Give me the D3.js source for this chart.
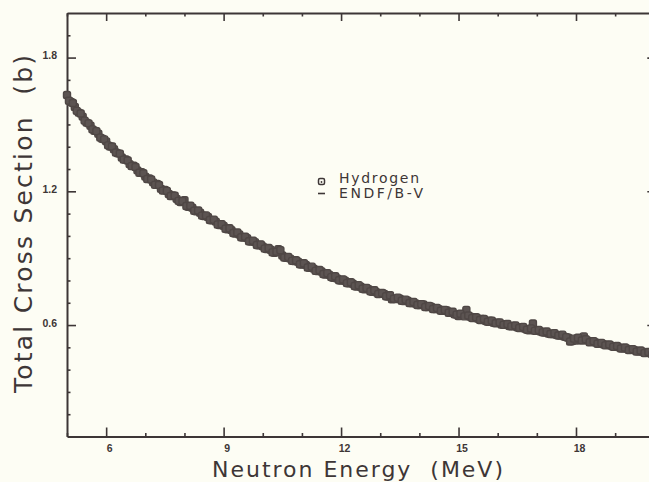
<!DOCTYPE html>
<html>
<head>
<meta charset="utf-8">
<script src="https://cdn.jsdelivr.net/npm/d3@7"></script>
<style>
  html, body { margin: 0; padding: 0; background: #fdfdf4; }
  svg { display: block; }
</style>
</head>
<body>
<svg id="chart" width="649" height="482"></svg>
<script>
// Measured n-p total cross section (b) vs neutron energy (MeV), two interleaved energy grids
const energiesA = [
  5.0, 5.1, 5.2, 5.3, 5.4, 5.5, 5.6, 5.7, 5.8, 5.9,
  6.0, 6.1, 6.2, 6.3, 6.4, 6.5, 6.6, 6.7, 6.8, 6.9,
  7.0, 7.1, 7.2, 7.3, 7.4, 7.5, 7.6, 7.7, 7.8, 7.9,
  8.0, 8.1, 8.2, 8.3, 8.4, 8.5, 8.6, 8.7, 8.8, 8.9,
  9.0, 9.1, 9.2, 9.3, 9.4, 9.5, 9.6, 9.7, 9.8, 9.9,
  10.0, 10.1, 10.2, 10.3, 10.4, 10.5, 10.6, 10.7, 10.8, 10.9,
  11.0, 11.1, 11.2, 11.3, 11.4, 11.5, 11.6, 11.7, 11.8, 11.9,
  12.0, 12.1, 12.2, 12.3, 12.4, 12.5, 12.6, 12.7, 12.8, 12.9,
  13.0, 13.1, 13.2, 13.3, 13.4, 13.5, 13.6, 13.7, 13.8, 13.9,
  14.0, 14.1, 14.2, 14.3, 14.4, 14.5, 14.6, 14.7, 14.8, 14.9,
  15.0, 15.1, 15.2, 15.3, 15.4, 15.5, 15.6, 15.7, 15.8, 15.9,
  16.0, 16.1, 16.2, 16.3, 16.4, 16.5, 16.6, 16.7, 16.8, 16.9,
  17.0, 17.1, 17.2, 17.3, 17.4, 17.5, 17.6, 17.7, 17.8, 17.9,
  18.0, 18.1, 18.2, 18.3, 18.4, 18.5, 18.6, 18.7, 18.8, 18.9,
  19.0, 19.1, 19.2, 19.3, 19.4, 19.5, 19.6, 19.7, 19.8, 19.9
];
const hydrogenA = [
  1.632, 1.601, 1.578, 1.553, 1.535, 1.508, 1.494, 1.472, 1.458, 1.436,
  1.424, 1.401, 1.389, 1.370, 1.352, 1.343, 1.322, 1.315, 1.294, 1.286,
  1.266, 1.258, 1.240, 1.233, 1.211, 1.206, 1.188, 1.181, 1.166, 1.152,
  1.160, 1.131, 1.126, 1.110, 1.104, 1.089, 1.085, 1.070, 1.064, 1.049,
  1.045, 1.030, 1.026, 1.011, 1.006, 0.993, 0.990, 0.975, 0.972, 0.958,
  0.953, 0.941, 0.938, 0.924, 0.940, 0.912, 0.902, 0.898, 0.887, 0.884,
  0.872, 0.870, 0.857, 0.853, 0.842, 0.840, 0.827, 0.825, 0.812, 0.809,
  0.800, 0.799, 0.787, 0.785, 0.773, 0.772, 0.760, 0.761, 0.749, 0.747,
  0.740, 0.739, 0.728, 0.716, 0.717, 0.718, 0.708, 0.709, 0.699, 0.697,
  0.690, 0.692, 0.681, 0.682, 0.672, 0.671, 0.664, 0.666, 0.655, 0.648,
  0.640, 0.649, 0.668, 0.637, 0.633, 0.628, 0.627, 0.618, 0.619, 0.610,
  0.611, 0.602, 0.604, 0.595, 0.596, 0.590, 0.588, 0.583, 0.576, 0.607,
  0.574, 0.571, 0.566, 0.562, 0.560, 0.556, 0.553, 0.548, 0.543, 0.528,
  0.531, 0.538, 0.549, 0.530, 0.526, 0.522, 0.519, 0.514, 0.511, 0.507,
  0.503, 0.500, 0.496, 0.494, 0.489, 0.487, 0.482, 0.480, 0.475, 0.473
];
const energiesB = [
  5.05, 5.15, 5.25, 5.35, 5.45, 5.55, 5.65, 5.75, 5.85, 5.95,
  6.05, 6.15, 6.25, 6.35, 6.45, 6.55, 6.65, 6.75, 6.85, 6.95,
  7.05, 7.15, 7.25, 7.35, 7.45, 7.55, 7.65, 7.75, 7.85, 7.95,
  8.05, 8.15, 8.25, 8.35, 8.45, 8.55, 8.65, 8.75, 8.85, 8.95,
  9.05, 9.15, 9.25, 9.35, 9.45, 9.55, 9.65, 9.75, 9.85, 9.95,
  10.05, 10.15, 10.25, 10.35, 10.45, 10.55, 10.65, 10.75, 10.85, 10.95,
  11.05, 11.15, 11.25, 11.35, 11.45, 11.55, 11.65, 11.75, 11.85, 11.95,
  12.05, 12.15, 12.25, 12.35, 12.45, 12.55, 12.65, 12.75, 12.85, 12.95,
  13.05, 13.15, 13.25, 13.35, 13.45, 13.55, 13.65, 13.75, 13.85, 13.95,
  14.05, 14.15, 14.25, 14.35, 14.45, 14.55, 14.65, 14.75, 14.85, 14.95,
  15.05, 15.15, 15.25, 15.35, 15.45, 15.55, 15.65, 15.75, 15.85, 15.95,
  16.05, 16.15, 16.25, 16.35, 16.45, 16.55, 16.65, 16.75, 16.85, 16.95,
  17.05, 17.15, 17.25, 17.35, 17.45, 17.55, 17.65, 17.75, 17.85, 17.95,
  18.05, 18.15, 18.25, 18.35, 18.45, 18.55, 18.65, 18.75, 18.85, 18.95,
  19.05, 19.15, 19.25, 19.35, 19.45, 19.55, 19.65, 19.75, 19.85, 19.95
];
const hydrogenB = [
  1.606, 1.596, 1.561, 1.549, 1.517, 1.505, 1.478, 1.470, 1.441, 1.433,
  1.406, 1.401, 1.374, 1.369, 1.342, 1.338, 1.313, 1.309, 1.283, 1.281,
  1.255, 1.253, 1.229, 1.228, 1.203, 1.202, 1.179, 1.180, 1.157, 1.156,
  1.134, 1.135, 1.113, 1.114, 1.091, 1.092, 1.071, 1.073, 1.051, 1.053,
  1.032, 1.034, 1.013, 1.015, 0.994, 0.996, 0.976, 0.979, 0.959, 0.962,
  0.943, 0.946, 0.926, 0.929, 0.936, 0.903, 0.906, 0.888, 0.891, 0.873,
  0.877, 0.858, 0.862, 0.843, 0.847, 0.829, 0.833, 0.815, 0.819, 0.801,
  0.805, 0.788, 0.792, 0.775, 0.779, 0.763, 0.767, 0.751, 0.756, 0.739,
  0.744, 0.729, 0.734, 0.718, 0.723, 0.709, 0.714, 0.699, 0.704, 0.690,
  0.694, 0.681, 0.686, 0.672, 0.677, 0.664, 0.668, 0.655, 0.660, 0.647,
  0.651, 0.639, 0.643, 0.631, 0.635, 0.623, 0.627, 0.615, 0.620, 0.608,
  0.612, 0.601, 0.605, 0.594, 0.598, 0.587, 0.592, 0.579, 0.585, 0.574,
  0.578, 0.567, 0.571, 0.560, 0.564, 0.553, 0.557, 0.546, 0.526, 0.539,
  0.543, 0.531, 0.536, 0.523, 0.528, 0.516, 0.520, 0.509, 0.513, 0.502,
  0.506, 0.495, 0.499, 0.488, 0.492, 0.481, 0.486, 0.474, 0.479, 0.468
];

// ENDF/B-V evaluation
const endfEnergies = [5.0, 5.5, 6.0, 6.5, 7.0, 7.5, 8.0, 8.5, 9.0, 9.5, 10.0, 10.5, 11.0, 11.5, 12.0,
                      12.5, 13.0, 13.5, 14.0, 14.5, 15.0, 15.5, 16.0, 16.5, 17.0, 17.5, 18.0, 18.5, 19.0, 19.5, 20.0];
const endfValues = [1.625, 1.510, 1.420, 1.340, 1.268, 1.203, 1.145, 1.092, 1.042, 0.995, 0.952, 0.912, 0.875, 0.838, 0.803,
                    0.771, 0.742, 0.716, 0.692, 0.670, 0.649, 0.629, 0.610, 0.593, 0.576, 0.559, 0.541, 0.522, 0.504, 0.487, 0.470];

// Axis ticks
const xMajor = [6, 9, 12, 15, 18];
const xMinor = [5, 7, 8, 10, 11, 13, 14, 16, 17, 19, 20];
const yMajor = [0.6, 1.2, 1.8];
const yMinor = [0.2, 0.3, 0.4, 0.5, 0.7, 0.8, 0.9, 1.0, 1.1, 1.3, 1.4, 1.5, 1.6, 1.7, 1.9];

const legendLabels = ["Hydrogen", "ENDF/B-V"];

const ink = "#3d3636";
const markInk = "#4f4745";

const svg = d3.select("#chart");

const x = d3.scaleLinear().domain([5, 20]).range([67, 654.3]);
const y = d3.scaleLinear().domain([0.1, 2.0]).range([436.5, 13]);

const [x0, x1] = x.range();
const [yb, yt] = y.range();

function styleAxis(g, width) {
  g.select(".domain").attr("stroke", ink).attr("stroke-width", width);
  g.selectAll(".tick line").attr("stroke", ink).attr("stroke-width", 1.6);
}

// bottom axis
const gB = svg.append("g").attr("transform", `translate(0,${yb})`)
  .call(d3.axisBottom(x).tickValues(xMajor).tickSizeInner(-9).tickSizeOuter(0).tickPadding(8)
    .tickFormat(d3.format("d")));
styleAxis(gB, 2);
gB.selectAll(".tick text")
  .attr("fill", ink).attr("font-family", "Liberation Sans, Arial, sans-serif")
  .attr("font-weight", "bold").attr("font-size", 10.5).attr("dx", 3);
svg.append("g").attr("transform", `translate(0,${yb})`)
  .call(d3.axisBottom(x).tickValues(xMinor).tickSizeInner(-3.5).tickSizeOuter(0).tickFormat(""))
  .call(g => { g.select(".domain").remove(); styleAxis(g, 2); });

// top axis
const gT = svg.append("g").attr("transform", `translate(0,${yt})`)
  .call(d3.axisTop(x).tickValues(xMajor).tickSizeInner(-8).tickSizeOuter(0).tickFormat(""));
styleAxis(gT, 2);
svg.append("g").attr("transform", `translate(0,${yt})`)
  .call(d3.axisTop(x).tickValues(xMinor).tickSizeInner(-3.5).tickSizeOuter(0).tickFormat(""))
  .call(g => { g.select(".domain").remove(); styleAxis(g, 2); });

// left axis
const gL = svg.append("g").attr("transform", `translate(${x0},0)`)
  .call(d3.axisLeft(y).tickValues(yMajor).tickSizeInner(-9).tickSizeOuter(0).tickPadding(10)
    .tickFormat(d3.format(".1f")));
styleAxis(gL, 2);
gL.selectAll(".tick text")
  .attr("fill", ink).attr("font-family", "Liberation Sans, Arial, sans-serif")
  .attr("font-weight", "bold").attr("font-size", 10.5).attr("dy", "0.1em");
svg.append("g").attr("transform", `translate(${x0},0)`)
  .call(d3.axisLeft(y).tickValues(yMinor).tickSizeInner(-3.5).tickSizeOuter(0).tickFormat(""))
  .call(g => { g.select(".domain").remove(); styleAxis(g, 2); });

// right axis
const gR = svg.append("g").attr("transform", `translate(${x1},0)`)
  .call(d3.axisRight(y).tickValues(yMajor).tickSizeInner(-7).tickSizeOuter(0).tickFormat(""));
styleAxis(gR, 2);
svg.append("g").attr("transform", `translate(${x1},0)`)
  .call(d3.axisRight(y).tickValues(yMinor).tickSizeInner(-3.5).tickSizeOuter(0).tickFormat(""))
  .call(g => { g.select(".domain").remove(); styleAxis(g, 2); });

// ENDF/B-V curve
const endf = endfEnergies.map((e, i) => ({ e, v: endfValues[i] }));
svg.append("path")
  .datum(endf)
  .attr("fill", "none")
  .attr("stroke", markInk)
  .attr("stroke-width", 1.6)
  .attr("d", d3.line().x(d => x(d.e)).y(d => y(d.v)).curve(d3.curveMonotoneX));

// measured points
const pts = energiesA.map((e, i) => ({ e, v: hydrogenA[i] }))
  .concat(energiesB.map((e, i) => ({ e, v: hydrogenB[i] })));
const ms = 7;
svg.append("g").selectAll("rect")
  .data(pts)
  .join("rect")
  .attr("x", d => x(d.e) - ms / 2)
  .attr("y", d => y(d.v) - ms / 2)
  .attr("width", ms)
  .attr("height", ms)
  .attr("rx", 1.8)
  .attr("fill", "#5c5452")
  .attr("stroke", markInk)
  .attr("stroke-width", 1.4);

// legend
const lg = svg.append("g");
lg.append("rect")
  .attr("x", 318.5).attr("y", 178.5).attr("width", 6).attr("height", 6).attr("rx", 1.5)
  .attr("fill", "#fdfdf4").attr("stroke", ink).attr("stroke-width", 1.5);
lg.append("circle").attr("cx", 321.5).attr("cy", 182).attr("r", 0.9).attr("fill", ink);
lg.append("line")
  .attr("x1", 318).attr("x2", 325).attr("y1", 193.5).attr("y2", 193.5)
  .attr("stroke", ink).attr("stroke-width", 1.6);
lg.selectAll("text")
  .data(legendLabels)
  .join("text")
  .attr("x", 339)
  .attr("y", (d, i) => 183 + i * 14.5)
  .attr("textLength", (d, i) => i === 0 ? 80 : 84)
  .attr("lengthAdjust", "spacing")
  .attr("font-family", "DejaVu Sans, sans-serif")
  .attr("font-size", 14)
  .attr("fill", ink)
  .text(d => d);

// axis titles
svg.append("text")
  .attr("x", 212).attr("y", 477)
  .attr("textLength", 291).attr("lengthAdjust", "spacing")
  .attr("font-family", "DejaVu Sans, sans-serif")
  .attr("font-size", 22)
  .attr("fill", ink)
  .text("Neutron Energy\u00a0\u00a0(MeV)");

svg.append("text")
  .attr("transform", "translate(32,224) rotate(-90)")
  .attr("text-anchor", "middle")
  .attr("textLength", 338).attr("lengthAdjust", "spacing")
  .attr("font-family", "DejaVu Sans, sans-serif")
  .attr("font-size", 25)
  .attr("fill", ink)
  .text("Total Cross Section\u00a0\u00a0(b)");
</script>
</body>
</html>
